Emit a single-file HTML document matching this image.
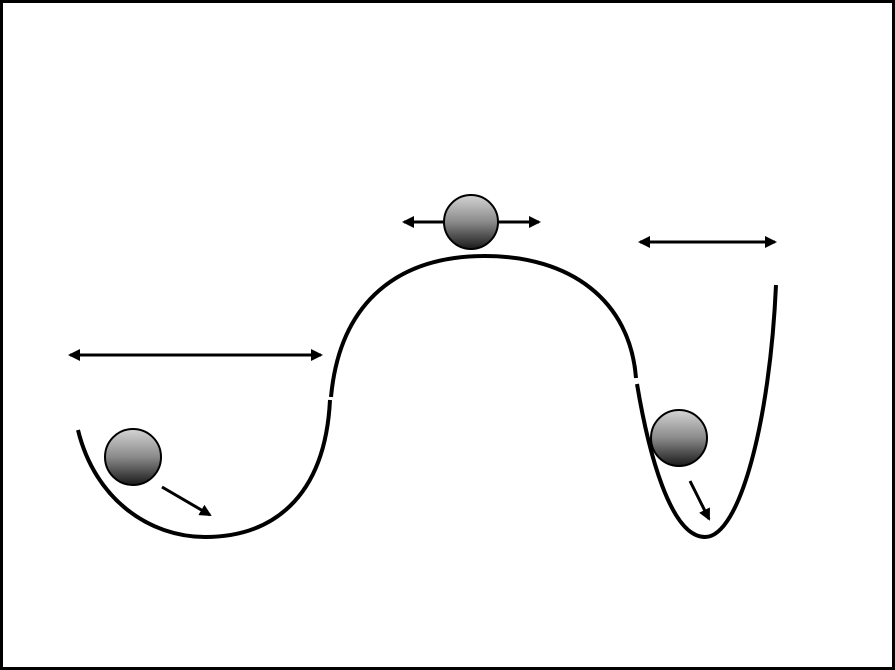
<!DOCTYPE html>
<html><head><meta charset="utf-8"><style>
html,body{margin:0;padding:0;background:#fff}
svg{display:block}
</style></head><body>
<svg width="895" height="670" viewBox="0 0 895 670">
<defs>
<linearGradient id="g" x1="0" y1="0" x2="0" y2="1">
<stop offset="0" stop-color="#d4d4d4"/><stop offset="0.5" stop-color="#8a8a8a"/><stop offset="1" stop-color="#1a1a1a"/>
</linearGradient>
<marker id="ah" markerWidth="12" markerHeight="12" refX="10" refY="6" orient="auto-start-reverse" markerUnits="userSpaceOnUse">
<path d="M0,0 L12,6 L0,12 z" fill="#000"/>
</marker>
</defs>
<rect x="1.5" y="1.5" width="892" height="667" fill="#fff" stroke="#000" stroke-width="3"/>
<g fill="none" stroke="#000" stroke-width="4">
<path d="M78,430 C95,500 150,537 205,537 C270,537 325,500 330,400"/>
<path d="M331,397 C340,300 400,256 485,256 C570,256 630,300 636,378"/>
<path d="M637,384 C648,450 670,537 705,537 C740,537 770,420 776,285"/>
</g>
<g stroke="#000" stroke-width="3">
<line x1="70" y1="355" x2="321" y2="355" marker-start="url(#ah)" marker-end="url(#ah)"/>
<line x1="404" y1="222" x2="539" y2="222" marker-start="url(#ah)" marker-end="url(#ah)"/>
<line x1="640" y1="242" x2="775" y2="242" marker-start="url(#ah)" marker-end="url(#ah)"/>
<line x1="162" y1="487" x2="210" y2="515" marker-end="url(#ah)"/>
<line x1="690" y1="481" x2="709" y2="519" marker-end="url(#ah)"/>
</g>
<g fill="url(#g)" stroke="#000" stroke-width="2">
<circle cx="133" cy="457" r="28"/>
<circle cx="471" cy="222" r="27"/>
<circle cx="679" cy="438" r="28"/>
</g>
</svg>
</body></html>
